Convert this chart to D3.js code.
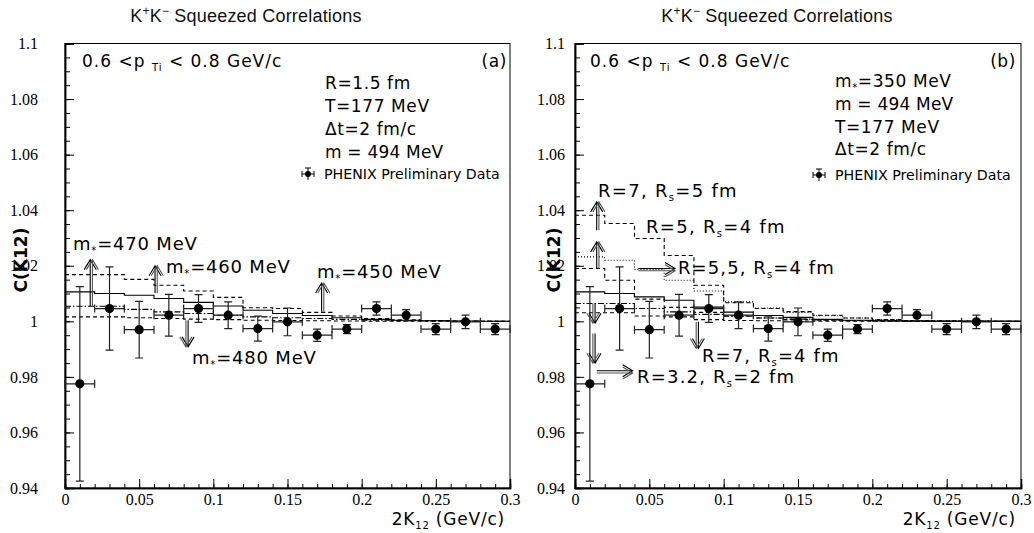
<!DOCTYPE html>
<html>
<head>
<meta charset="utf-8">
<script src="https://cdn.jsdelivr.net/npm/d3@7"></script>
<style>
  body { margin: 0; background: #fff; }
  svg { display: block; }
  .tick text { font-family: "Liberation Serif", "Times New Roman", serif; font-size: 16px; fill: #000; }
  .lbl { font-family: "DejaVu Sans", sans-serif; fill: #000; }
  .ttl { font-family: "Liberation Sans", Arial, sans-serif; fill: #111; }
</style>
</head>
<body>
<div id="chart"></div>
<script>
// PHENIX preliminary K+K- data points (same in both panels)
const kCenters = [0.01, 0.03, 0.05, 0.07, 0.09, 0.11, 0.13, 0.15, 0.17, 0.19, 0.21, 0.23, 0.25, 0.27, 0.29];
const kHalfWidth = [0.01, 0.01, 0.01, 0.01, 0.01, 0.01, 0.01, 0.01, 0.01, 0.01, 0.01, 0.01, 0.01, 0.01, 0.01];
const phenixC = [0.9775, 1.0046, 0.997, 1.0022, 1.0046, 1.0022, 0.9974, 0.9998, 0.995, 0.9972, 1.0046, 1.0022, 0.9972, 0.9998, 0.9972];
const phenixErr = [0.035, 0.015, 0.0102, 0.0075, 0.005, 0.0048, 0.0045, 0.005, 0.0022, 0.0016, 0.0024, 0.002, 0.002, 0.0024, 0.002];

// histogram bin lower edges (width 0.02)
const binEdges = [0, 0.02, 0.04, 0.06, 0.08, 0.10, 0.12, 0.14, 0.16, 0.18, 0.20, 0.22, 0.24, 0.26, 0.28];
const binMax = 0.3;

// panel (a): different m* values
const mStar450 = [1.0168, 1.0168, 1.0151, 1.013, 1.0109, 1.0086, 1.0049, 1.0046, 1.0032, 1.0019, 1.001, 1.0005, 1.0003, 1.0001, 1.0];
const mStar460 = [1.0106, 1.01, 1.0094, 1.0082, 1.0068, 1.0055, 1.004, 1.0028, 1.0021, 1.0013, 1.0007, 1.0004, 1.0002, 1.0001, 1.0];
const mStar470 = [1.0054, 1.0054, 1.0043, 1.0034, 1.0028, 1.0022, 1.0016, 1.0013, 1.001, 1.0007, 1.0004, 1.0002, 1.0001, 1.0, 1.0];
const mStar480 = [1.0016, 1.0016, 1.0013, 1.001, 1.0008, 1.0006, 1.0004, 1.0003, 1.0002, 1.0001, 1.0, 1.0, 1.0, 1.0, 1.0];

// panel (b): different R, Rs
const r7rs5 = [1.0382, 1.0352, 1.0298, 1.0237, 1.013, 1.0067, 1.0046, 1.0035, 1.0022, 1.0012, 1.0006, 1.0003, 1.0002, 1.0001, 1.0];
const r5rs4 = [1.0232, 1.022, 1.0187, 1.0148, 1.0109, 1.007, 1.0048, 1.0032, 1.002, 1.0012, 1.0006, 1.0003, 1.0002, 1.0001, 1.0];
const r55rs4 = [1.019, 1.0148, 1.008, 1.005, 1.0032, 1.002, 1.0012, 1.0007, 1.0004, 1.0002, 1.0001, 1.0, 1.0, 1.0, 1.0];
const r32rs2 = [1.0106, 1.01, 1.0088, 1.0076, 1.0051, 1.0033, 1.0021, 1.0014, 1.0007, 1.0004, 1.0002, 1.0001, 1.0, 1.0, 1.0];
const r7rs4a = [1.0064, 1.0064, 1.0046, 1.0034, 1.0025, 1.0018, 1.0012, 1.0008, 1.0005, 1.0003, 1.0001, 1.0, 1.0, 1.0, 1.0];
const r7rs4b = [1.0031, 1.0031, 1.0019, 1.0016, 1.0006, 1.0003, 1.0002, 1.0001, 1.0, 1.0, 1.0, 1.0, 1.0, 1.0, 1.0];

// axis ticks
const xTicks = [0, 0.05, 0.1, 0.15, 0.2, 0.25, 0.3];
const yTicks = [0.94, 0.96, 0.98, 1, 1.02, 1.04, 1.06, 1.08, 1.1];

const width = 1034, height = 533;
const svg = d3.select("#chart").append("svg")
  .attr("width", width).attr("height", height);

const dashes = { solid: null, dashed: "4,3", dashdot: "6,2,1.5,2", dotted: "1,2" };

function drawPanel(p) {
  const x = d3.scaleLinear().domain([0, 0.3]).range([p.left, p.right]);
  const y = d3.scaleLinear().domain([0.94, 1.1]).range([488, 43.5]);
  const g = svg.append("g");

  // title
  const t = g.append("text").attr("class", "ttl")
    .attr("x", p.titleX).attr("y", 22)
    .attr("text-anchor", "middle").attr("font-size", 18).attr("letter-spacing", 0.2);
  t.append("tspan").text("K");
  t.append("tspan").attr("font-size", 12).attr("dy", -7).text("+");
  t.append("tspan").attr("dy", 7).text("K");
  t.append("tspan").attr("font-size", 12).attr("dy", -7).text("−");
  t.append("tspan").attr("dy", 7).text(" Squeezed Correlations");

  // frame
  g.append("rect").attr("x", p.left).attr("y", y(1.1))
    .attr("width", p.right - p.left).attr("height", y(0.94) - y(1.1))
    .attr("fill", "none").attr("stroke", "#000").attr("stroke-width", 1);

  // axes with inward ticks
  g.append("g").attr("transform", `translate(0,${y(0.94)})`)
    .call(d3.axisBottom(x).tickValues(xTicks).tickSize(-9).tickPadding(6)
      .tickFormat(d => d3.format("")(+d.toFixed(2))));
  g.append("g").attr("transform", `translate(0,${y(0.94)})`)
    .call(d3.axisBottom(x).tickValues(d3.range(0, 0.301, 0.01)).tickSize(-4).tickFormat(""));
  g.append("g").attr("transform", `translate(${p.left},0)`)
    .call(d3.axisLeft(y).tickValues(yTicks).tickSize(-9).tickPadding(p.yPad)
      .tickFormat(d => d3.format("")(+d.toFixed(2))));
  g.append("g").attr("transform", `translate(${p.left},0)`)
    .call(d3.axisLeft(y).tickValues(d3.range(0.94, 1.1001, 0.005)).tickSize(-5).tickFormat(""));
  g.selectAll(".domain").attr("stroke-width", 1.5);
  g.selectAll(".tick line").attr("stroke-width", 1);

  // axis titles
  g.append("text").attr("class", "lbl")
    .attr("transform", `translate(${p.ylabX},260) rotate(-90)`)
    .attr("text-anchor", "middle").attr("font-size", 17).attr("font-weight", "bold")
    .text("C(K12)");
  const xl = g.append("text").attr("class", "lbl")
    .attr("x", p.right - 5).attr("y", 525).attr("text-anchor", "end")
    .attr("font-size", 17).attr("letter-spacing", 0.8);
  xl.append("tspan").text("2K");
  xl.append("tspan").attr("font-size", 10).attr("dy", 4).text("12");
  xl.append("tspan").attr("dy", -4).text(" (GeV/c)");

  // histograms
  const line = d3.line().x(d => x(d[0])).y(d => y(d[1])).curve(d3.curveStepAfter);
  p.hists.forEach(h => {
    const pts = binEdges.map((e, i) => [e, h.values[i]]);
    pts.push([binMax, h.values[h.values.length - 1]]);
    g.append("path").attr("d", line(pts))
      .attr("fill", "none").attr("stroke", "#000").attr("stroke-width", 1.1)
      .attr("stroke-dasharray", dashes[h.style]);
  });

  // data points with error bars
  const pts = kCenters.map((k, i) => ({ k, c: phenixC[i], e: phenixErr[i], w: kHalfWidth[i] }));
  const eb = g.append("g").attr("stroke", "#222").attr("stroke-width", 1.2).attr("fill", "none");
  pts.forEach(d => {
    const cx = x(d.k), cy = y(d.c);
    const y1 = y(d.c + d.e), y2 = y(d.c - d.e), x1 = x(d.k - d.w), x2 = x(d.k + d.w);
    eb.append("path").attr("d",
      `M${cx},${y1}V${y2}M${cx - 4},${y1}H${cx + 4}M${cx - 4},${y2}H${cx + 4}` +
      `M${x1},${cy}H${x2}M${x1},${cy - 4}V${cy + 4}M${x2},${cy - 4}V${cy + 4}`);
  });
  g.selectAll(".pt").data(pts).join("circle").attr("class", "pt")
    .attr("cx", d => x(d.k)).attr("cy", d => y(d.c)).attr("r", 4.6).attr("fill", "#000");

  // text block
  p.texts.forEach(tx => {
    const size = tx.size || 17;
    const el = g.append("text").attr("class", "lbl")
      .attr("x", tx.x).attr("y", tx.y).attr("font-size", size)
      .attr("letter-spacing", tx.ls == null ? 0.6 : tx.ls)
      .attr("text-anchor", tx.anchor || "start");
    tx.parts.forEach(part => {
      const s = el.append("tspan").text(part.t)
        .attr("font-size", part.small ? 10 : size);
      if (part.dy) s.attr("dy", part.dy);
    });
  });

  // legend marker
  const lx = p.legX, ly = p.legY;
  g.append("path").attr("d",
    `M${lx - 6},${ly}H${lx + 6}M${lx - 6},${ly - 3}V${ly + 3}M${lx + 6},${ly - 3}V${ly + 3}M${lx},${ly - 6}V${ly + 6}M${lx - 3},${ly - 6}H${lx + 3}`)
    .attr("stroke", "#000").attr("fill", "none");
  g.append("circle").attr("cx", lx).attr("cy", ly).attr("r", 3).attr("fill", "#000");
  g.append("text").attr("class", "lbl").attr("x", lx + 16).attr("y", ly + 5)
    .attr("font-size", 14.2).text("PHENIX Preliminary Data");

  // arrows (double-stroke open heads)
  p.arrows.forEach(a => {
    let x1, y1, x2, y2;
    if (a.dir === "up" || a.dir === "down") { x1 = x2 = x(a.x); y1 = y(a.from); y2 = y(a.to); }
    else { y1 = y2 = y(a.y); x1 = x(a.from); x2 = x(a.to); }
    const ang = Math.atan2(y2 - y1, x2 - x1);
    const hx = Math.cos(ang), hy = Math.sin(ang), nx = -hy, ny = hx;
    [0, 2.2].forEach(off => {
      const ox = nx * off, oy = ny * off;
      const L = 10, W = 6;
      g.append("path").attr("d",
        `M${x1 + ox},${y1 + oy}L${x2 + ox},${y2 + oy}` +
        `M${x2 + ox - hx * L + nx * W},${y2 + oy - hy * L + ny * W}L${x2 + ox},${y2 + oy}` +
        `L${x2 + ox - hx * L - nx * W},${y2 + oy - hy * L - ny * W}`)
        .attr("fill", "none").attr("stroke", off ? "#555" : "#000").attr("stroke-width", 1.1);
    });
  });
}

const mstar = v => [{ t: "m" }, { t: "*", small: true, dy: 4 }, { t: "=" + v + " MeV", dy: -4 }];
const rrs = (r, rs) => [{ t: `R=${r}, R` }, { t: "s", small: true, dy: 4 }, { t: `=${rs}  fm`, dy: -4 }];
const ptText = [{ t: "0.6 <p " }, { t: "Ti", small: true, dy: 4 }, { t: " < 0.8 GeV/c", dy: -4 }];

drawPanel({
  left: 65, right: 510, titleX: 246, yPad: 27, ylabX: 27, legX: 308, legY: 174,
  hists: [
    { values: mStar450, style: "dashed" },
    { values: mStar460, style: "solid" },
    { values: mStar470, style: "dashdot" },
    { values: mStar480, style: "dashed" }
  ],
  texts: [
    { x: 82, y: 67, ls: 1, parts: ptText },
    { x: 507, y: 67, anchor: "end", parts: [{ t: "(a)" }] },
    { x: 325, y: 89, parts: [{ t: "R=1.5 fm" }] },
    { x: 325, y: 112, parts: [{ t: "T=177 MeV" }] },
    { x: 325, y: 135, parts: [{ t: "Δt=2 fm/c" }] },
    { x: 325, y: 158, ls: 0.2, parts: [{ t: "m = 494 MeV" }] },
    { x: 73, y: 250, size: 18, ls: 0.8, parts: mstar(470) },
    { x: 166, y: 273, size: 18, ls: 0.8, parts: mstar(460) },
    { x: 317, y: 278, size: 18, ls: 0.8, parts: mstar(450) },
    { x: 192, y: 364, size: 18, ls: 0.8, parts: mstar(480) }
  ],
  arrows: [
    { dir: "up", x: 0.017, from: 1.0054, to: 1.0222 },
    { dir: "up", x: 0.0607, from: 1.0101, to: 1.02 },
    { dir: "up", x: 0.173, from: 1.0034, to: 1.0138 },
    { dir: "down", x: 0.083, from: 1.0004, to: 0.9908 }
  ]
});

drawPanel({
  left: 575, right: 1021, titleX: 777, yPad: 10, ylabX: 560, legX: 819, legY: 175,
  hists: [
    { values: r7rs5, style: "dashed" },
    { values: r5rs4, style: "dotted" },
    { values: r55rs4, style: "dashed" },
    { values: r32rs2, style: "solid" },
    { values: r7rs4a, style: "dashdot" },
    { values: r7rs4b, style: "dashed" }
  ],
  texts: [
    { x: 590, y: 67, ls: 1, parts: ptText },
    { x: 1016, y: 67, anchor: "end", parts: [{ t: "(b)" }] },
    { x: 835, y: 87, parts: mstar(350) },
    { x: 835, y: 110, ls: 0.2, parts: [{ t: "m = 494 MeV" }] },
    { x: 835, y: 133, parts: [{ t: "T=177 MeV" }] },
    { x: 835, y: 155, parts: [{ t: "Δt=2 fm/c" }] },
    { x: 598, y: 197, size: 18, ls: 1.3, parts: rrs(7, 5) },
    { x: 646, y: 233, size: 18, ls: 1.3, parts: rrs(5, 4) },
    { x: 678, y: 274, size: 18, ls: 1.1, parts: [{ t: "R=5,5, R" }, { t: "s", small: true, dy: 4 }, { t: "=4 fm", dy: -4 }] },
    { x: 702, y: 362, size: 18, ls: 1.1, parts: rrs(7, 4) },
    { x: 637, y: 383, size: 18, ls: 1.2, parts: rrs(3.2, 2) }
  ],
  arrows: [
    { dir: "up", x: 0.0146, from: 1.0328, to: 1.043 },
    { dir: "up", x: 0.0146, from: 1.0191, to: 1.0286 },
    { dir: "right", y: 1.019, from: 0.0426, to: 0.0673 },
    { dir: "down", x: 0.0135, from: 1.0064, to: 0.9993 },
    { dir: "down", x: 0.0135, from: 0.9956, to: 0.9849 },
    { dir: "right", y: 0.9822, from: 0.0146, to: 0.0388 },
    { dir: "down", x: 0.083, from: 0.9998, to: 0.9902 }
  ]
});
</script>
</body>
</html>
